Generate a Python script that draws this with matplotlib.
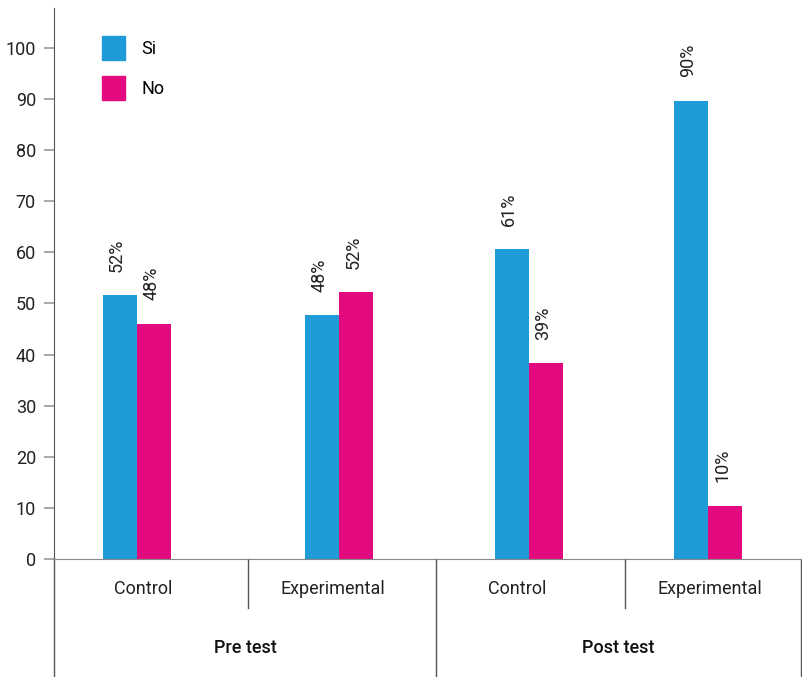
import matplotlib
matplotlib.use("Agg")
import matplotlib.pyplot as plt
from matplotlib.patches import Patch
import numpy as np

plt.rcParams['font.family'] = ['Roboto', 'DejaVu Sans']

# data
groups = ["Pre test", "Post test"]
subgroups = ["Control", "Experimental", "Control", "Experimental"]
si_vals = [51.6, 47.7, 60.6, 89.7]
no_vals = [46.0, 52.2, 38.3, 10.4]
si_labels = ["52%", "48%", "61%", "90%"]
no_labels = ["48%", "52%", "39%", "10%"]

blue = "#1f9bd7"
pink = "#e20a7e"
line_col = "#555555"

fig = plt.figure(figsize=(8.03, 6.77), dpi=100)
W, H = 803, 677
ax = fig.add_axes([54 / W, (677 - 559) / H, (802 - 54) / W, (559 - 8) / H])

# group centres (slightly uneven spacing as in the original)
x = np.array([0, 1.063, 2.063, 3.005])
w = 0.18
ax.bar(x - w / 2, si_vals, w, color=blue, label="Si")
ax.bar(x + w / 2, no_vals, w, color=pink, label="No")

for xi, v, t in zip(x - w / 2, si_vals, si_labels):
    ax.annotate(t, (xi, v), xytext=(-2, 17), textcoords="offset points",
                rotation=90, ha="center", va="bottom", fontsize=13, color="#222222")
for xi, v, t in zip(x + w / 2, no_vals, no_labels):
    ax.annotate(t, (xi, v), xytext=(-2, 17), textcoords="offset points",
                rotation=90, ha="center", va="bottom", fontsize=13, color="#222222")

ax.set_xlim(-0.437, 3.5)
ax.set_ylim(0, 107.8)
ax.set_yticks(range(0, 101, 10))
ax.tick_params(axis="y", length=7, width=1.2, color="#999999", labelsize=13,
               labelcolor="#222222", pad=6)
ax.set_xticks([])

for s in ["top", "right"]:
    ax.spines[s].set_visible(False)
ax.spines["left"].set_color(line_col)
ax.spines["bottom"].set_color("#888888")

# category table below the axis
trans = ax.get_xaxis_transform()
sub_bottom = (559 - 608) / 551
full_bottom = (559 - 677) / 551
bounds = [-0.437, 0.584, 1.574, 2.568, 3.495]
for b in [bounds[1], bounds[3]]:
    ax.plot([b, b], [0, sub_bottom], transform=trans, color=line_col, lw=1, clip_on=False)
for b in [bounds[0], bounds[2], bounds[4]]:
    ax.plot([b, b], [0, full_bottom], transform=trans, color=line_col, lw=1, clip_on=False)

label_x = [0.03, 1.033, 2.0, 3.015]
for xi, name in zip(label_x, subgroups):
    ax.text(xi, (559 - 589) / 551, name, transform=trans, ha="center",
            va="center", fontsize=13, color="#222222")
for i, name in enumerate(groups):
    xc = (bounds[2 * i] + bounds[2 * i + 2]) / 2
    ax.text(xc, (559 - 648) / 551, name, transform=trans, ha="center",
            va="center", fontsize=13, fontweight="medium", color="#111111")

handles = [Patch(color=blue, label="Si"), Patch(color=pink, label="No")]
ax.legend(handles=handles, loc="upper left", bbox_to_anchor=(0.043, 0.978),
          frameon=False, fontsize=13, handlelength=1.25, handleheight=1.65,
          labelspacing=0.9, handletextpad=0.9)

fig.savefig("out.png", dpi=100)
